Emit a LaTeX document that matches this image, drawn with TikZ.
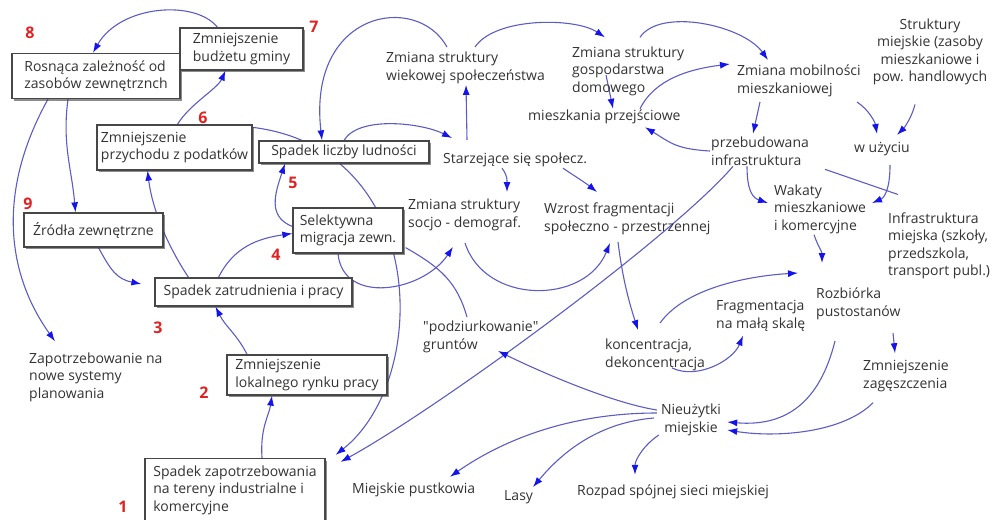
\documentclass[tikz,border=0pt]{standalone}
\usepackage{fontspec}
\setmainfont{Open Sans}
\usetikzlibrary{arrows.meta,shadows,backgrounds}
\definecolor{linecol}{RGB}{92,92,196}
\definecolor{tipcol}{RGB}{20,20,235}
\definecolor{numred}{RGB}{222,35,35}
\begin{document}
\begin{tikzpicture}[x=1pt,y=-1pt,>={Latex[length=10pt,width=7pt,color=tipcol]},
  font=\fontsize{14}{17.5}\selectfont,text=black!80,
  box/.style={draw=black!72,line width=1.3pt,fill=white,align=left,inner xsep=4pt,inner ysep=2pt,
    drop shadow={shadow xshift=2.4pt,shadow yshift=-2.4pt,fill=black!75,opacity=0.6}},
  txt/.style={align=left,inner sep=1pt,anchor=west},
  ctxt/.style={align=center,inner sep=1pt},
  num/.style={text=numred,font=\bfseries\fontsize{16}{16}\selectfont},
  arr/.style={draw=linecol,line width=1.1pt,->},
  ln/.style={draw=linecol,line width=1.1pt}]
\useasboundingbox (0,0) rectangle (992,519);
% red numbers
\foreach \n/\x/\y in {8/30/33,7/314/27,6/203/118,5/293/183,9/28/204,4/276/255,3/158/328,2/204/393,1/123/507}
  \node[num] (n\n) at (\x,\y) {\n};
% boxes
\node[box,minimum width=168pt,minimum height=45pt] (b8) at (96,76) {Rosnąca zależność od\\zasobów zewnętrznch};
\node[box,minimum width=123pt,minimum height=42pt] (b7) at (241.5,49) {Zmniejszenie\\budżetu gminy};
\node[box,minimum width=155pt,minimum height=45pt] (b6) at (174.5,147.5) {Zmniejszenie\\przychodu z podatków};
\node[box,minimum width=170pt,minimum height=22pt] (b5) at (344,152) {Spadek liczby ludności};
\node[box,minimum width=139pt,minimum height=34pt] (b9) at (93.5,230) {Źródła zewnętrzne};
\node[box,minimum width=110pt,minimum height=45pt] (b4) at (348,230.5) {Selektywna\\migracja zewn.};
\node[box,minimum width=197pt,minimum height=28pt] (b3) at (253.5,292) {Spadek zatrudnienia i pracy};
\node[box,minimum width=160pt,minimum height=40pt] (b2) at (307,375) {Zmniejszenie\\lokalnego rynku pracy};
\node[box,minimum width=180pt,minimum height=63pt] (b1) at (235,490) {Spadek zapotrzebowania\\na tereny industrialne i\\komercyjne};
% plain texts
\node[txt] (zap) at (28,377) {Zapotrzebowanie na\\nowe systemy\\planowania};
\node[txt] (wiek) at (385,68) {Zmiana struktury\\wiekowej społeczeństwa};
\node[txt] (gosp) at (571,71) {Zmiana struktury\\gospodarstwa\\domowego};
\node[txt] (przej) at (527,117) {mieszkania przejściowe};
\node[txt] (mob) at (736,81) {Zmiana mobilności\\mieszkaniowej};
\node[ctxt] (strukt) at (930,52) {Struktury\\miejskie (zasoby\\mieszkaniowe i\\pow. handlowych};
\node[txt] (starz) at (442,160) {Starzejące się społecz.};
\node[txt] (przeb) at (710,151) {przebudowana\\infrastruktura};
\node[txt] (uzyc) at (853,149) {w użyciu};
\node[txt] (socjo) at (407,215) {Zmiana struktury\\socjo - demograf.};
\node[txt] (wzrost) at (543,219) {Wzrost fragmentacji\\społeczno - przestrzennej};
\node[txt] (wakat) at (773,209) {Wakaty\\mieszkaniowe\\i komercyjne};
\node[txt] (infra) at (887,246) {Infrastruktura\\miejska (szkoły,\\przedszkola,\\transport publ.)};
\node[txt] (podz) at (422,337) {\textquotedbl podziurkowanie\textquotedbl\\gruntów};
\node[txt] (konc) at (604,355) {koncentracja,\\dekoncentracja};
\node[txt] (frag) at (715,316) {Fragmentacja\\na małą skalę};
\node[txt] (rozb) at (815,304) {Rozbiórka\\pustostanów};
\node[txt] (zag) at (862,376) {Zmniejszenie\\zagęszczenia};
\node[ctxt] (nieuz) at (691,420) {Nieużytki\\miejskie};
\node[txt] (pust) at (351,490) {Miejskie pustkowia};
\node[txt] (lasy) at (503,497) {Lasy};
\node[txt] (rozp) at (576,492) {Rozpad spójnej sieci miejskiej};
\begin{scope}[on background layer]
% left part
\draw[arr] ([xshift=-24pt]b7.north) .. controls +(-22,-28) and +(27,-48) .. ([xshift=-3pt]b8.north);
\draw[arr] ([xshift=3pt]b6.north) .. controls +(12,-20) and +(-8,18) .. ([xshift=-16pt]b7.south);
\draw[arr] ([xshift=-28pt]b8.south) .. controls +(-6,45) and +(-4,-45) .. ([xshift=-18pt]b9.north);
\draw[arr] ([xshift=-48pt]b8.south) .. controls +(-50,90) and +(-50,-70) .. ([xshift=27pt,yshift=10pt]zap.north west);
\draw[arr] ([xshift=5pt]b9.south) .. controls +(12,22) and +(-25,-5) .. ([xshift=-13pt,yshift=8pt]b3.west);
\draw[arr] ([xshift=-65pt]b3.north) .. controls +(-20,-30) and +(5,40) .. ([xshift=-27pt]b6.south);
\draw[arr] ([xshift=-35pt]b3.north) .. controls +(15,-30) and +(-35,5) .. ([yshift=-3pt]b4.west);
\draw[arr] ([yshift=4pt]b4.west) .. controls +(-25,-10) and +(-10,30) .. ([xshift=-59pt]b5.south);
\draw[arr] ([yshift=-3pt]b6.north east) .. controls +(177,22) and +(95,-75) .. ([xshift=10pt,yshift=3pt]b1.north east);
\draw[arr] ([xshift=-60pt]b2.north) .. controls +(-10,-20) and +(10,20) .. ([xshift=-38pt]b3.south);
\draw[arr] ([xshift=27pt]b1.north) .. controls +(-2,-30) and +(-3,20) .. ([xshift=-35pt]b2.south);
% middle
\draw[arr] ([xshift=62pt,yshift=4pt]wiek.north west) .. controls +(-30,-55) and +(-15,-130) .. ([xshift=-22pt]b5.north);
\draw[arr] (b5.north) .. controls +(15,-25) and +(-30,-15) .. ([xshift=10pt,yshift=22pt]starz.west);
\draw[arr] ([xshift=25pt,yshift=20pt]starz.west) -- ([xshift=81pt]wiek.south west);
\draw[arr] ([xshift=60pt]starz.south west) .. controls +(6,8) and +(0,-10) .. ([xshift=100pt,yshift=6pt]socjo.north west);
\draw[arr] ([xshift=121pt]starz.south west) .. controls +(12,8) and +(-10,-8) .. ([xshift=54pt,yshift=10pt]wzrost.north west);
\draw[arr] ([xshift=58pt,yshift=-11pt]socjo.south west) .. controls +(20,62) and +(-25,62) .. ([xshift=67pt,yshift=-7pt]wzrost.south west);
\draw[arr] ([xshift=-10pt]b4.south) .. controls +(5,52) and +(-30,45) .. ([xshift=46pt,yshift=-15pt]socjo.south west);
\draw[ln] ([xshift=2pt,yshift=6pt]b4.south east) .. controls +(35,20) and +(-10,-35) .. ([xshift=45pt,yshift=3pt]podz.north west);
\draw[arr] ([xshift=75pt,yshift=-6pt]wzrost.south west) .. controls +(5,40) and +(-8,-25) .. ([xshift=34pt,yshift=8pt]konc.north west);
% top right
\draw[arr] ([xshift=90pt,yshift=4pt]wiek.north west) .. controls +(20,-30) and +(-30,-20) .. ([xshift=34pt,yshift=8pt]gosp.north west);
\draw[arr] ([xshift=69pt,yshift=8pt]gosp.north west) .. controls +(20,-30) and +(-25,-35) .. ([xshift=32pt,yshift=4pt]mob.north west);
\draw[arr] ([xshift=35pt,yshift=-4pt]gosp.west) -- ([xshift=86pt]przej.north west);
\draw[arr] ([xshift=113pt]przej.north west) .. controls +(15,-30) and +(-40,5) .. ([xshift=-6pt,yshift=17pt]mob.west);
\draw[arr] (przeb.west) .. controls +(-35,-2) and +(25,15) .. ([xshift=118pt,yshift=-2pt]przej.south west);
\draw[arr] ([xshift=24pt,yshift=-4pt]mob.south west) -- ([xshift=43pt,yshift=2pt]przeb.north west);
\draw[arr] ([xshift=121pt,yshift=-4pt]mob.south west) .. controls +(12,8) and +(-2,-12) .. ([xshift=24pt,yshift=7pt]uzyc.north west);
\draw[arr] ([xshift=-15pt,yshift=-18pt]strukt.south) .. controls +(-3,12) and +(8,-8) .. ([xshift=44pt,yshift=6pt]uzyc.north west);
\draw[arr] ([xshift=37pt,yshift=-8pt]uzyc.south west) .. controls +(0,25) and +(12,-5) .. ([xshift=99pt,yshift=6pt]wakat.west);
\draw[arr] ([xshift=37pt]przeb.south west) .. controls +(0,25) and +(-15,-5) .. ([xshift=-5pt,yshift=6pt]wakat.west);
\draw[ln] ([xshift=115pt,yshift=-3pt]przeb.south west) -- ([xshift=11pt,yshift=17pt]infra.north west);
\draw[arr] ([xshift=23pt]przeb.south west) .. controls +(-60,70) and +(100,-55) .. ([xshift=15pt,yshift=-4pt]b1.north east);
% lower right
\draw[arr] ([xshift=41pt]wakat.south west) .. controls +(4,12) and +(0,-12) .. ([xshift=7pt,yshift=24pt]rozb.north west);
\draw[arr] ([xshift=56pt,yshift=15pt]konc.north west) .. controls +(25,-35) and +(-50,3) .. ([xshift=-17pt,yshift=31pt]rozb.west);
\draw[arr] ([xshift=68pt,yshift=4pt]konc.south west) .. controls +(25,12) and +(-10,25) .. ([xshift=28pt,yshift=-3pt]frag.south west);
\draw[arr] ([xshift=78pt,yshift=-12pt]rozb.south west) -- ([xshift=33pt,yshift=6pt]zag.north west);
\draw[arr] ([xshift=20pt,yshift=-20pt]rozb.south west) .. controls +(-15,60) and +(60,5) .. ([xshift=5pt,yshift=-2pt]nieuz.east);
\draw[arr] ([xshift=11pt,yshift=-10pt]zag.south west) .. controls +(-30,30) and +(50,8) .. ([xshift=5pt,yshift=-10pt]nieuz.east);
\draw[arr] ([xshift=-3pt,yshift=10pt]nieuz.west) .. controls +(-50,-8) and +(30,15) .. ([xshift=76pt,yshift=3pt]podz.south west);
\draw[arr] ([xshift=-3pt,yshift=7pt]nieuz.west) .. controls +(-90,0) and +(50,-35) .. ([xshift=99pt,yshift=5pt]pust.north west);
\draw[arr] ([xshift=-6pt,yshift=2pt]nieuz.west) .. controls +(-60,5) and +(25,-30) .. ([xshift=30pt,yshift=2pt]lasy.north west);
\draw[arr] ([xshift=-1pt,yshift=-15pt]nieuz.west) .. controls +(-15,10) and +(0,-15) .. ([xshift=59pt,yshift=9pt]rozp.north west);
\end{scope}
\end{tikzpicture}
\end{document}
